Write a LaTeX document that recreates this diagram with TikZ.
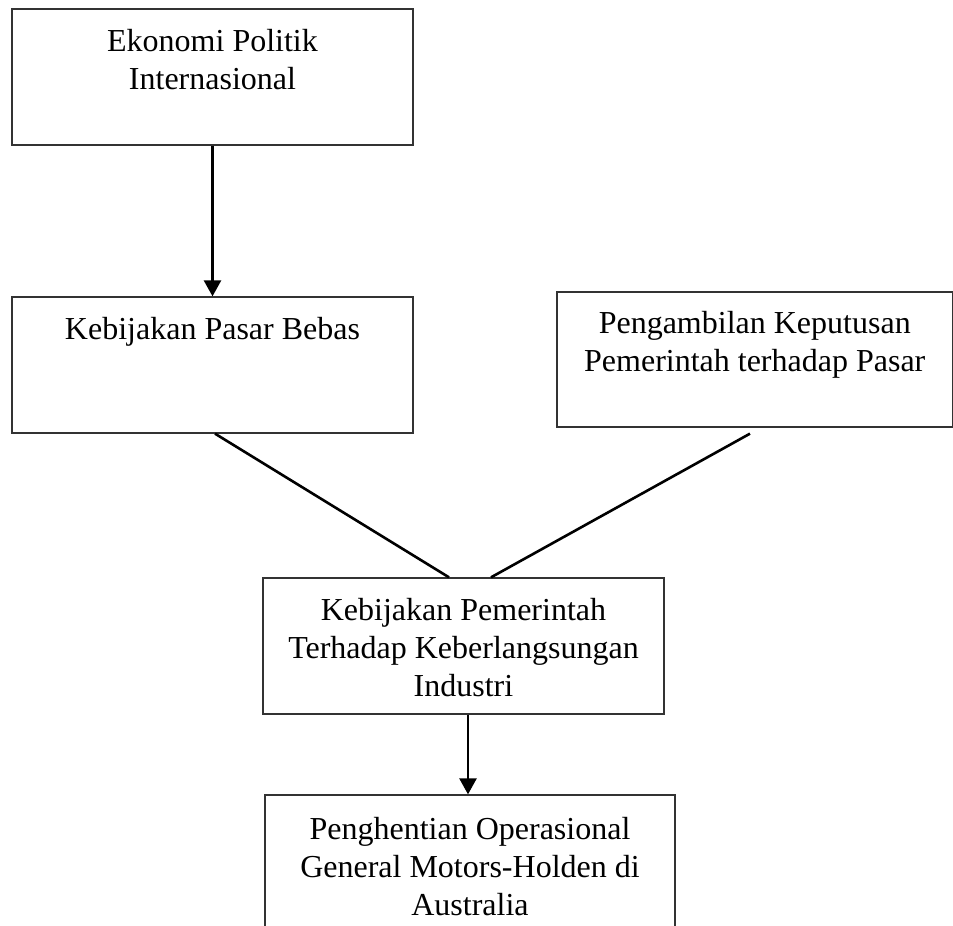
\documentclass[tikz,border=0pt]{standalone}
\usepackage{fontspec}
\setmainfont{Liberation Serif}
\usetikzlibrary{arrows.meta,calc}
\begin{document}
\begin{tikzpicture}[x=1pt,y=1pt,
  box/.style={draw=black!80,line width=1.3pt,rectangle,inner sep=0pt},
  txt/.style={anchor=north,inner sep=0pt,align=center,font=\fontsize{32}{38}\selectfont},
  conn/.style={line width=2.6pt,black},
  arr/.style={conn,-{Triangle[width=17pt,length=16pt]}}]
\useasboundingbox (0,0) rectangle (953,926);
\clip (0,0) rectangle (953,926);
\node[box,minimum width=401pt,minimum height=136pt] (b1) at (212.5,849) {};
\node[box,minimum width=401pt,minimum height=136pt] (b2) at (212.5,561) {};
\node[box,minimum width=395.5pt,minimum height=135pt] (b3) at (754.75,566.5) {};
\node[box,minimum width=401pt,minimum height=136pt] (b4) at (463.5,280) {};
\node[box,minimum width=410pt,minimum height=140pt] (b5) at (470,61) {};
\node[txt] (t1) at ($(b1.north)+(0,-21)$) {Ekonomi Politik\\Internasional};
\node[txt] (t2) at ($(b2.north)+(0,-21)$) {Kebijakan Pasar Bebas};
\node[txt] (t3) at ($(b3.north)+(0,-20)$) {Pengambilan Keputusan\\Pemerintah terhadap Pasar};
\node[txt] (t4) at ($(b4.north)+(0,-21)$) {Kebijakan Pemerintah\\Terhadap Keberlangsungan\\Industri};
\node[txt] (t5) at ($(b5.north)+(0,-23)$) {Penghentian Operasional\\General Motors-Holden di\\Australia};
\coordinate (s1) at ($(b2.south)+(2.5,0)$);
\coordinate (e1) at ($(b4.north)+(-14.5,0)$);
\coordinate (s2) at ($(b3.south)+(-4.75,-6)$);
\coordinate (e2) at ($(b4.north)+(27.5,0)$);
\coordinate (s3) at ($(b4.south)+(4.5,0)$);
\coordinate (e3) at (s3 |- b5.north);
\draw[arr] (b1.south) -- (b2.north);
\draw[conn] (s1) -- (e1);
\draw[conn] (s2) -- (e2);
\draw[arr] (s3) -- (e3);
\end{tikzpicture}
\end{document}
